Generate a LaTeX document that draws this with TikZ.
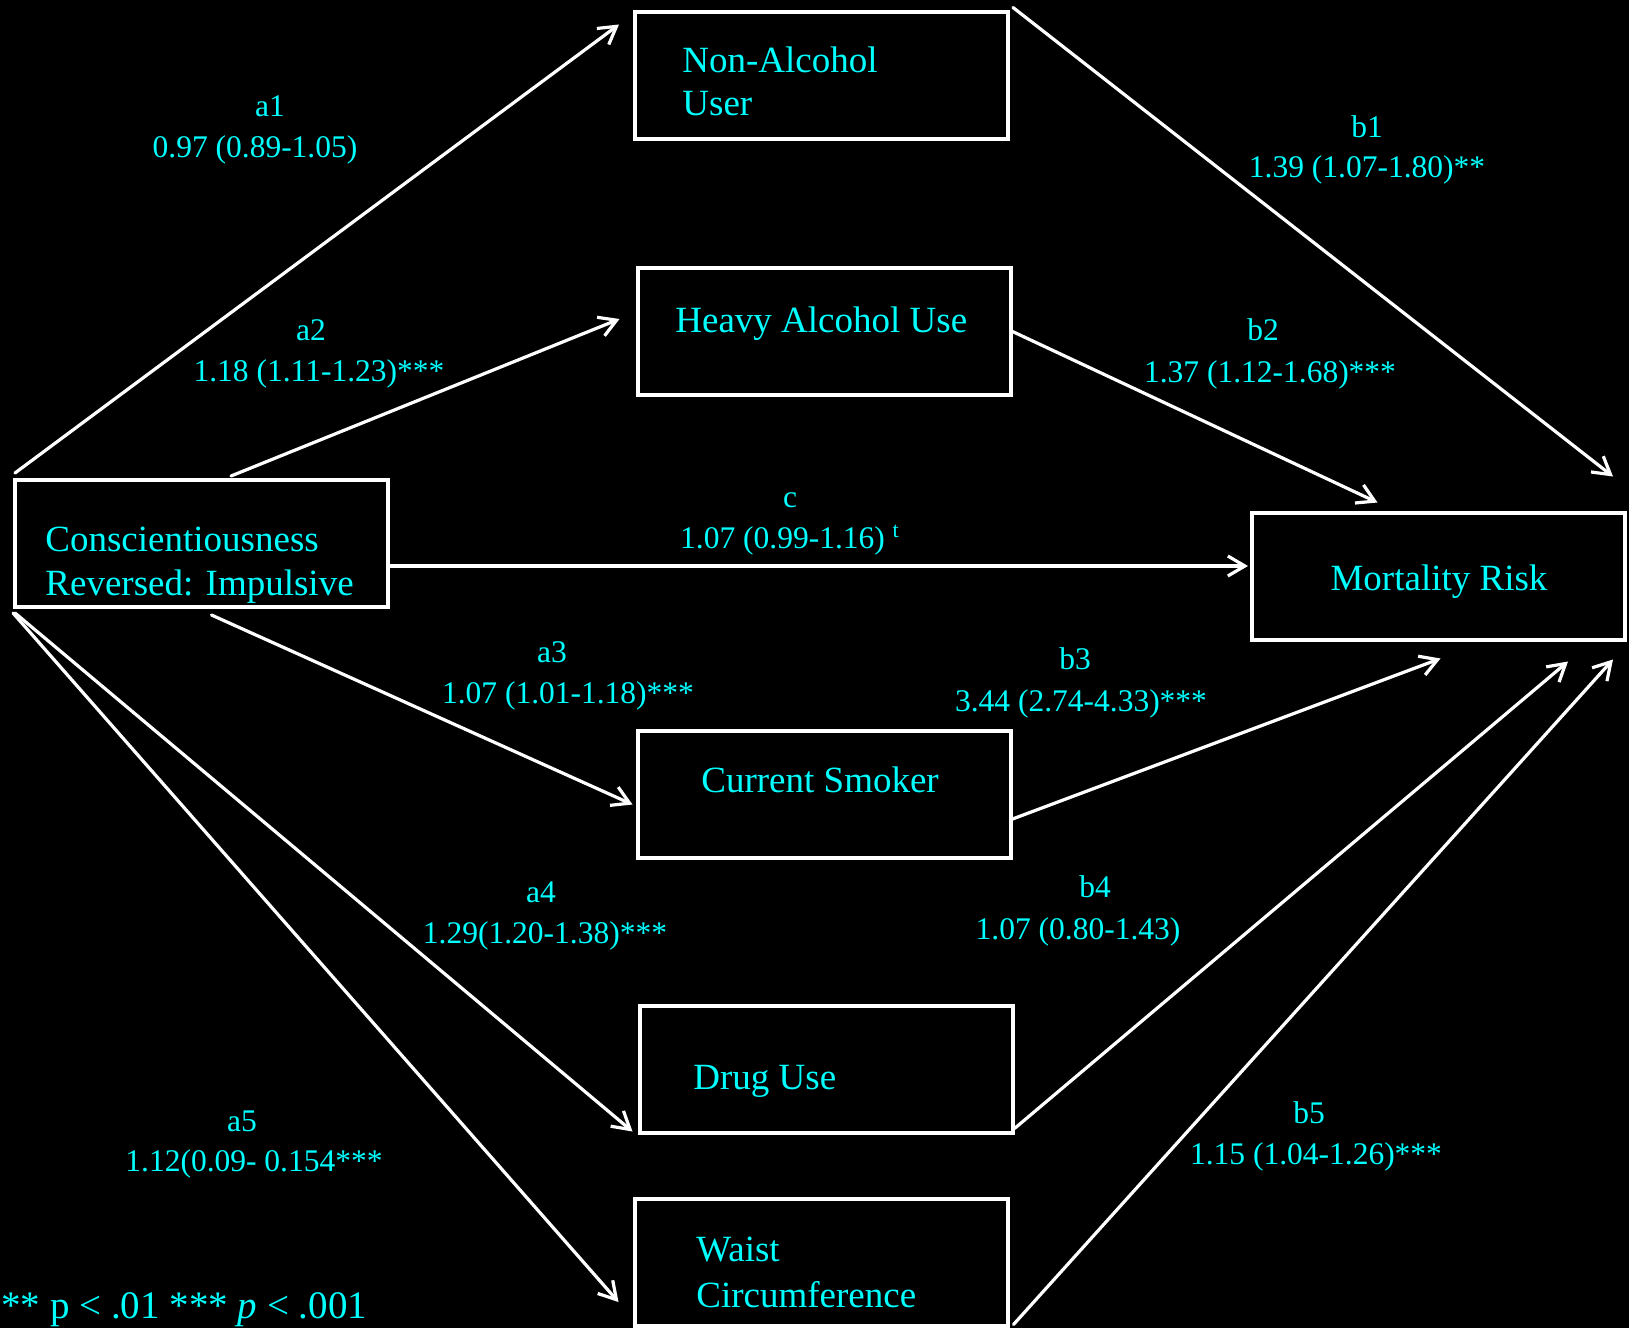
\documentclass[tikz,border=0pt]{standalone}
\usepackage{fontspec}
\setmainfont{Liberation Serif}
\usetikzlibrary{arrows.meta,calc}
\definecolor{lbl}{RGB}{0,255,255}
\tikzset{
  box/.style={draw=white, line width=2pt, fill=black, rectangle, minimum width=186.5pt, minimum height=63.5pt, inner sep=0pt},
  boxtext/.style={text=lbl, font=\fontsize{18.5}{21}\selectfont, anchor=base west, inner sep=0pt},
  lab/.style={text=lbl, font=\fontsize{15.75}{18}\selectfont, anchor=base, inner sep=0pt},
  note/.style={text=lbl, font=\fontsize{19.5}{23}\selectfont, anchor=base west, inner sep=0pt},
  conn/.style={draw=white, line width=1.6pt, line cap=round, -{Straight Barb[length=8.5pt,width=10pt,line width=1.6pt]}}
}
\begin{document}
\begin{tikzpicture}[x=0.5pt,y=-0.5pt]
\useasboundingbox (0,0) rectangle (1629,1328);
\fill[black] (0,0) rectangle (1629,1328);
\clip (0,0) rectangle (1629,1328);

% boxes
\node[box] (con) at (201.5,543.5) {};
\node[box] (nau) at (821.5,75) {};
\node[box] (hau) at (824,331.5) {};
\node[box] (mr)  at (1438.5,576) {};
\node[box] (cs)  at (824,794.5) {};
\node[box] (du)  at (826,1069) {};
\node[box] (wc)  at (821,1262) {};

% box texts
\node[boxtext] (con1) at (45,551) {Conscientiousness};
\node[boxtext] (con2) at (45,595) {Reversed: Impulsive};
\node[boxtext] (nau1) at (682,72) {Non-Alcohol};
\node[boxtext] (nau2) at (682,115) {User};
\node[boxtext] (hau1) at (675,332) {Heavy Alcohol Use};
\node[text=lbl, font=\fontsize{18.5}{21}\selectfont, inner sep=0pt, anchor=base] (mr1) at (1439,590) {Mortality Risk};
\node[boxtext] (cs1) at (701,792) {Current Smoker};
\node[boxtext] (du1) at (693,1089) {Drug Use};
\node[boxtext] (wc1) at (696,1261) {Waist};
\node[boxtext] (wc2) at (696,1307) {Circumference};

% connector end points
\coordinate (ea1) at ($(nau.north west)+(-14,15)$);
\coordinate (ea2) at ($(hau.west)+(-16,-12.5)$);
\coordinate (ec)  at ($(mr.west)+(-2,-10)$);
\coordinate (ea3) at ($(cs.west)+(-3,10)$);
\coordinate (ea4) at ($(du.south west)+(-5,-3)$);
\coordinate (ea5) at ($(wc.west)+(-14,40)$);
\coordinate (eb1) at ($(mr.north east)+(-14,-34)$);
\coordinate (eb2) at ($(mr.north)+(-61,-8)$);
\coordinate (eb3) at ($(mr.south)+(2,17)$);
\coordinate (eb4) at ($(mr.south east)+(-59,20)$);
\coordinate (eb5) at ($(mr.south east)+(-14,18)$);

% connectors
\draw[conn] ($(con.north west)+(2,-5)$) -- (ea1);
\draw[conn] ($(con.north west)+(218,-2)$) -- (ea2);
\draw[conn] (con.east |- ec) -- (ec);
\draw[conn] ($(con.south)+(10,6)$) -- (ea3);
\draw[conn] ($(con.south west)+(2,4)$) -- (ea4);
\draw[conn] ($(con.south west)+(0,4)$) -- (ea5);
\draw[conn] ($(nau.north east)+(3,-2)$) -- (eb1);
\draw[conn] (hau.east) -- (eb2);
\draw[conn] ($(cs.east)+(0,24.5)$) -- (eb3);
\draw[conn] ($(du.south east)+(0,-6)$) -- (eb4);
\draw[conn] ($(wc.south east)+(4,-3)$) -- (eb5);

% labels
\node[lab] (la1) at (270,116) {a1};
\node[lab] (na1) at (255,157) {0.97 (0.89-1.05)};
\node[lab] (la2) at (311,340) {a2};
\node[lab] (na2) at (319,381) {1.18 (1.11-1.23)***};
\node[lab] (lc) at (790,507) {c};
\node[lab] (nc) at (790,548) {1.07 (0.99-1.16) \textsuperscript{t}};
\node[lab] (la3) at (552,662) {a3};
\node[lab] (na3) at (568,703) {1.07 (1.01-1.18)***};
\node[lab] (la4) at (541,902) {a4};
\node[lab] (na4) at (545,943) {1.29(1.20-1.38)***};
\node[lab] (la5) at (242,1131) {a5};
\node[lab] (na5) at (254,1171) {1.12(0.09- 0.154***};
\node[lab] (lb1) at (1367,137) {b1};
\node[lab] (nb1) at (1367,177) {1.39 (1.07-1.80)**};
\node[lab] (lb2) at (1263,340) {b2};
\node[lab] (nb2) at (1270,382) {1.37 (1.12-1.68)***};
\node[lab] (lb3) at (1075,669) {b3};
\node[lab] (nb3) at (1081,711) {3.44 (2.74-4.33)***};
\node[lab] (lb4) at (1095,897) {b4};
\node[lab] (nb4) at (1078,939) {1.07 (0.80-1.43)};
\node[lab] (lb5) at (1309,1123) {b5};
\node[lab] (nb5) at (1316,1164) {1.15 (1.04-1.26)***};

\node[note] (foot) at (1,1318) {** p < .01 *** \textit{p} < .001};
\end{tikzpicture}
\end{document}
